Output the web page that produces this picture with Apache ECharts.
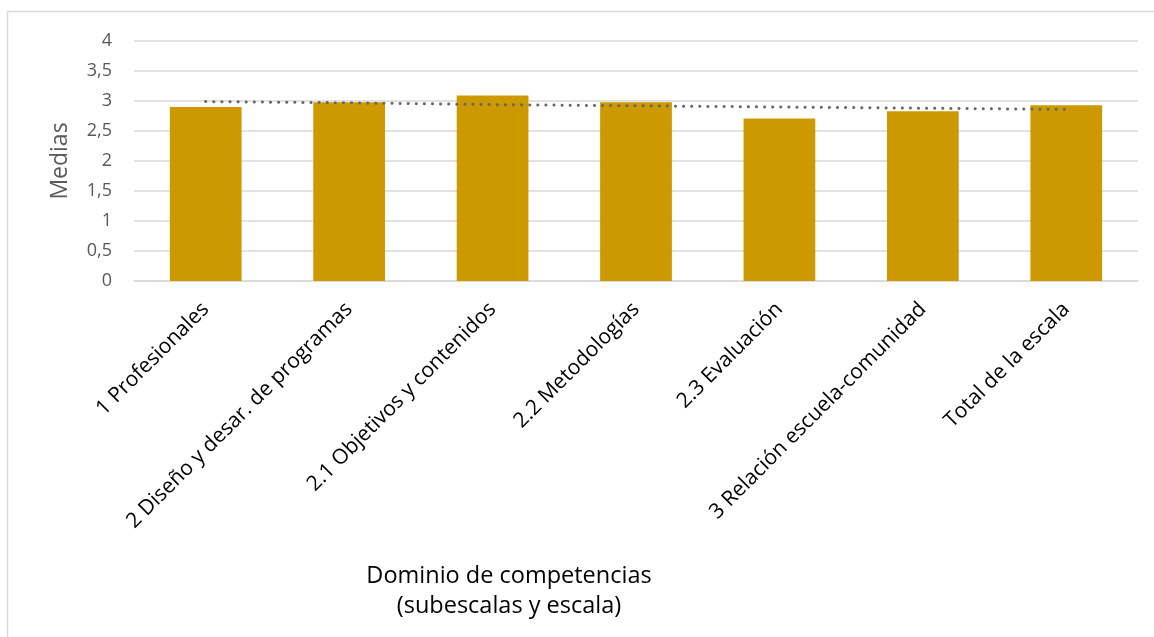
<!DOCTYPE html>
<html>
<head>
<meta charset="utf-8">
<script src="https://cdn.jsdelivr.net/npm/echarts@6/dist/echarts.min.js"></script>
<style>
html,body{margin:0;padding:0;background:#fff;}
#chart{width:1154px;height:637px;}
</style>
</head>
<body>
<div id="chart"></div>
<script>
const categories = [
  '1 Profesionales',
  '2 Diseño y desar. de programas',
  '2.1 Objetivos y contenidos',
  '2.2 Metodologías',
  '2.3 Evaluación',
  '3 Relación escuela-comunidad',
  'Total de la escala'
];
const medias = [2.90, 2.98, 3.09, 2.98, 2.71, 2.83, 2.93];
const tendencia = [2.99, 2.97, 2.94, 2.92, 2.90, 2.88, 2.86];
const yTicks = [0, 0.5, 1, 1.5, 2, 2.5, 3, 3.5, 4];
const yAxisTitle = 'Medias';
const xAxisTitle = 'Dominio de competencias\n(subescalas y escala)';

const FONT = '"Open Sans", sans-serif';
const chart = echarts.init(document.getElementById('chart'));
chart.setOption({
  animation: false,
  backgroundColor: '#fff',
  grid: { left: 134, right: 16, top: 41, bottom: 356, containLabel: false },
  graphic: [
    { type: 'rect', shape: { x: 7.5, y: 11.5, width: 1160, height: 640 },
      style: { fill: 'none', stroke: '#d9d9d9', lineWidth: 1.5 }, silent: true },
    { type: 'text', x: 509, y: 561,
      style: { text: xAxisTitle, font: '23.5px ' + FONT, fill: '#000', align: 'center', verticalAlign: 'top', lineHeight: 30 },
      silent: true }
  ],
  xAxis: {
    type: 'category',
    data: categories,
    axisLine: { lineStyle: { color: '#d9d9d9', width: 1.5 } },
    axisTick: { show: false },
    axisLabel: { interval: 0, rotate: 45, margin: 25, color: '#000', fontFamily: FONT, fontSize: 21 }
  },
  yAxis: {
    type: 'value',
    min: 0, max: 4, interval: 0.5,
    name: yAxisTitle,
    nameLocation: 'middle',
    nameGap: 62,
    nameTextStyle: { color: '#595959', fontFamily: FONT, fontSize: 23 },
    axisLine: { show: false },
    axisTick: { show: false },
    splitLine: { lineStyle: { color: '#d9d9d9', width: 1.5 } },
    axisLabel: {
      margin: 22, color: '#595959', fontFamily: FONT, fontSize: 18,
      formatter: v => yTicks.includes(v) ? String(v).replace('.', ',') : ''
    }
  },
  series: [
    {
      type: 'bar',
      data: medias,
      barWidth: '50%',
      itemStyle: { color: '#CC9900' }
    },
    {
      type: 'line',
      data: tendencia,
      symbol: 'none',
      lineStyle: { color: '#666666', width: 3, type: [0.1, 8], cap: 'round' },
      z: 5
    }
  ]
});
</script>
</body>
</html>
